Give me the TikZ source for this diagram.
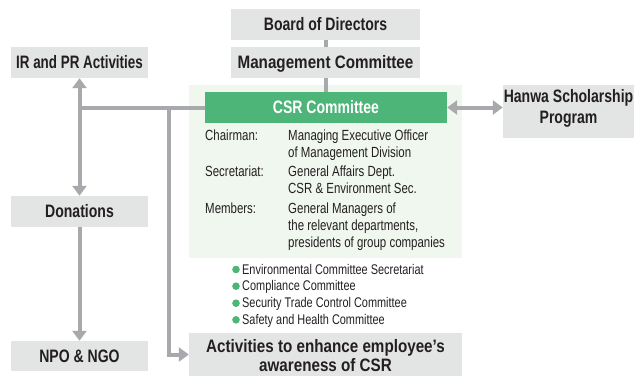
\documentclass[tikz,border=0pt]{standalone}
\usepackage{fontspec}
\setmainfont{Liberation Sans}[FakeStretch=0.78]
\newfontfamily\widefont{Liberation Sans}[FakeStretch=0.845]
\newfontfamily\narrowfont{Liberation Sans}[FakeStretch=0.745]
\usetikzlibrary{arrows.meta}
\definecolor{boxgray}{HTML}{E3E4E4}
\definecolor{linegray}{HTML}{A7A9AC}
\definecolor{csrgreen}{HTML}{4DB578}
\definecolor{bggreen}{HTML}{F0F7EF}
\definecolor{txt}{HTML}{231F20}
\begin{document}
\begin{tikzpicture}[x=1pt,y=-1pt,
 box/.style={fill=boxgray, inner sep=0pt, text=txt, font=\fontsize{18}{21}\selectfont\bfseries, text height=12.9pt, text depth=0pt, align=center},
 conn/.style={draw=linegray, line width=4pt},
 arr/.style={conn, -{Triangle[width=14pt,length=10pt]}},
 darr/.style={conn, {Triangle[width=14pt,length=10pt]}-{Triangle[width=14pt,length=10pt]}},
 info/.style={anchor=base west, inner sep=0pt, text=txt, font=\fontsize{14.7}{17}\selectfont},
 bul/.style={anchor=base west, inner sep=0pt, text=txt, font=\fontsize{14}{16}\selectfont},
 dot/.style={fill=csrgreen}
]
\useasboundingbox (0,0) rectangle (634,376);
\node[fill=bggreen, minimum width=273pt, minimum height=173pt, inner sep=0pt] (bg) at (325.5,171.5) {};
\node[box, minimum width=189pt, minimum height=31pt] (board) at (325.5,24.5) {Board of Directors};
\node[box, minimum width=189pt, minimum height=31pt, font=\widefont\fontsize{18}{21}\selectfont\bfseries] (mgmt) at (325.5,62.5) {Management Committee};
\node[box, minimum width=137pt, minimum height=31pt, font=\narrowfont\fontsize{18}{21}\selectfont\bfseries] (ir) at (79.5,62.5) {IR and PR Activities};
\node[box, fill=csrgreen, text=white, minimum width=242pt, minimum height=31pt] (csr) at (326,107.5) {CSR Committee};
\node[box, minimum width=131pt, minimum height=53pt, text height=23.6pt] (hanwa) at (568.5,111.5) {Hanwa Scholarship\\Program};
\node[box, minimum width=137pt, minimum height=31pt] (don) at (79.5,211.5) {Donations};
\node[box, minimum width=137pt, minimum height=30pt] (npo) at (79.5,356) {NPO \& NGO};
\node[box, minimum width=273pt, minimum height=43pt, text height=34.6pt, font=\widefont\fontsize{18}{19.5}\selectfont\bfseries] (act) at (325.5,354.5) {Activities to enhance employee’s\\awareness of CSR};

\draw[conn] (board.south) -- (mgmt.north);
\draw[conn] (mgmt.south) -- (mgmt.south |- csr.north);
\coordinate (jl) at (ir.south |- csr.west);
\coordinate (jr) at (169,107.5);
\draw[conn] (csr.west) -- (jl);
\draw[arr] (jl) -- (ir.south);
\draw[arr] (jl) -- (don.north);
\draw[arr] (don.south) -- (npo.north);
\draw[arr] (jr) |- (act.west);
\draw[darr] (csr.east) -- (csr.east -| hanwa.west);

\node[info] (l1) at (205,140.5) {Chairman:};
\node[info] (v1a) at (288,140.5) {Managing Executive Officer};
\node[info] (v1b) at (288,157) {of Management Division};
\node[info] (l2) at (205,176.5) {Secretariat:};
\node[info] (v2a) at (288,176.5) {General Affairs Dept.};
\node[info] (v2b) at (288,193) {CSR \& Environment Sec.};
\node[info] (l3) at (205,213.5) {Members:};
\node[info] (v3a) at (288,213.5) {General Managers of};
\node[info] (v3b) at (288,230.5) {the relevant departments,};
\node[info] (v3c) at (288,247.5) {presidents of group companies};

\fill[dot] (236,269.5) circle (3.8pt);
\node[bul] (b1) at (242,274) {Environmental Committee Secretariat};
\fill[dot] (236,286.2) circle (3.8pt);
\node[bul] (b2) at (242,290.7) {Compliance Committee};
\fill[dot] (236,303.2) circle (3.8pt);
\node[bul] (b3) at (242,307.7) {Security Trade Control Committee};
\fill[dot] (236,319.8) circle (3.8pt);
\node[bul] (b4) at (242,324.3) {Safety and Health Committee};
\end{tikzpicture}
\end{document}
